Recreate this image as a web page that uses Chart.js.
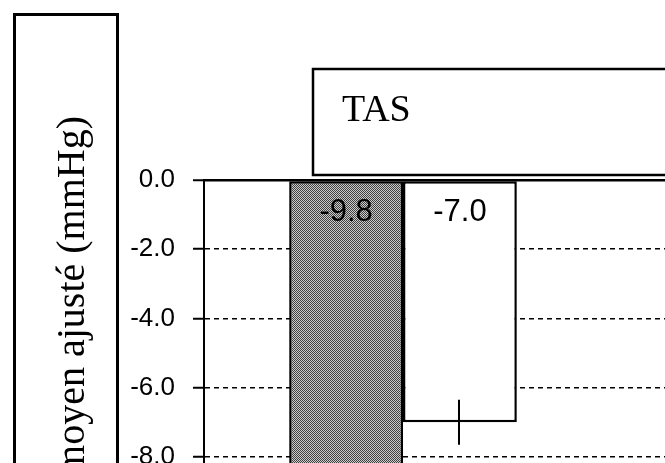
<!DOCTYPE html>
<html>
<head>
<meta charset="utf-8">
<script src="https://cdn.jsdelivr.net/npm/chart.js@4.4.1/dist/chart.umd.min.js"></script>
<style>
  html, body { margin: 0; padding: 0; background: #fff; overflow: hidden; }
  #wrap { position: absolute; left: 0; top: 0; width: 1000px; height: 629px; }
</style>
</head>
<body>
<div id="wrap"><canvas id="chart"></canvas></div>
<script>
// data (second group is cut off, so left empty)
var groups = ['TAS', ''];
var seriesGray = [-9.8, null];
var seriesWhite = [-7.0, null];
var errWhite = [0.65, null];
var yTicks = [0, -2, -4, -6, -8, -10, -12];
var yTitle = 'moyen ajusté (mmHg)';
var panelTitle = 'TAS';

function makeHalftone() {
    var c = document.createElement('canvas');
    c.width = 2; c.height = 2;
    var g = c.getContext('2d');
    g.fillStyle = '#cccccc';
    g.fillRect(0, 0, 2, 2);
    g.fillStyle = '#404040';
    g.fillRect(0, 0, 1, 1);
    g.fillRect(1, 1, 1, 1);
    return g.createPattern(c, 'repeat');
}

var decorPlugin = {
    id: 'decor',
    afterDraw: function (chart) {
        var ctx = chart.ctx;
        var yScale = chart.scales.y;
        var zeroY = yScale.getPixelForValue(0);
        ctx.save();
        ctx.strokeStyle = '#000';
        ctx.fillStyle = '#000';

        // box holding the y axis title
        ctx.lineWidth = 3;
        ctx.strokeRect(14.5, 14.5, 103, 700);
        ctx.save();
        ctx.translate(84, 116);
        ctx.rotate(-Math.PI / 2);
        ctx.font = '40px "Liberation Serif", serif';
        ctx.textAlign = 'right';
        ctx.textBaseline = 'alphabetic';
        ctx.fillText(yTitle, 0, 0);
        ctx.restore();

        // panel title box
        ctx.lineWidth = 2.5;
        ctx.strokeRect(313, 69, 700, 106);
        ctx.font = '38px "Liberation Serif", serif';
        ctx.textAlign = 'left';
        ctx.fillText(panelTitle, 342, 121);

        // value labels near the top of each bar
        ctx.font = '31px "Liberation Sans", Arial, sans-serif';
        ctx.textAlign = 'center';
        ctx.textBaseline = 'middle';
        chart.data.datasets.forEach(function (ds, d) {
            var meta = chart.getDatasetMeta(d);
            ds.data.forEach(function (v, i) {
                if (v === null) return;
                ctx.fillText(v.toFixed(1), meta.data[i].x, zeroY + 32);
            });
        });

        // error bar on the white series
        var metaW = chart.getDatasetMeta(1);
        ctx.lineWidth = 2;
        seriesWhite.forEach(function (v, i) {
            if (v === null || errWhite[i] === null) return;
            var x = Math.round(metaW.data[i].x) - 1;
            ctx.beginPath();
            ctx.moveTo(x, yScale.getPixelForValue(v + errWhite[i]));
            ctx.lineTo(x, yScale.getPixelForValue(v - errWhite[i]));
            ctx.stroke();
        });
        ctx.restore();
    }
};

Chart.defaults.color = '#000';

var chart = new Chart(document.getElementById('chart'), {
    type: 'bar',
    data: {
        labels: groups,
        datasets: [
            {
                data: seriesGray,
                backgroundColor: makeHalftone(),
                borderColor: '#000',
                borderWidth: 2.5,
                borderSkipped: false
            },
            {
                data: seriesWhite,
                backgroundColor: '#fff',
                borderColor: '#000',
                borderWidth: 2.5,
                borderSkipped: false
            }
        ]
    },
    options: {
        animation: false,
        responsive: true,
        maintainAspectRatio: false,
        devicePixelRatio: 1,
        layout: { padding: { top: 180, left: 0, right: 0, bottom: 20 } },
        plugins: {
            legend: { display: false },
            tooltip: { enabled: false }
        },
        datasets: {
            bar: { categoryPercentage: 0.572, barPercentage: 1.0 }
        },
        scales: {
            x: { display: false },
            y: {
                min: -12,
                max: 0,
                afterFit: function (scale) { scale.width = 204; },
                afterBuildTicks: function (scale) {
                    scale.ticks = yTicks.map(function (v) { return { value: v }; });
                },
                ticks: {
                    padding: 18,
                    font: { family: '"Liberation Sans", Arial, sans-serif', size: 26 },
                    color: '#000',
                    callback: function (v) { return Number(v).toFixed(1); }
                },
                grid: {
                    color: '#000',
                    lineWidth: function (ctx) { return ctx.tick && ctx.tick.value === 0 ? 2.5 : 1.5; },
                    tickLength: 11,
                    tickWidth: 2,
                    tickColor: '#000'
                },
                border: {
                    display: true,
                    color: '#000',
                    width: 2,
                    dash: function (ctx) { return ctx.tick && ctx.tick.value !== 0 ? [5, 4] : []; }
                }
            }
        }
    },
    plugins: [decorPlugin]
});
</script>
</body>
</html>
